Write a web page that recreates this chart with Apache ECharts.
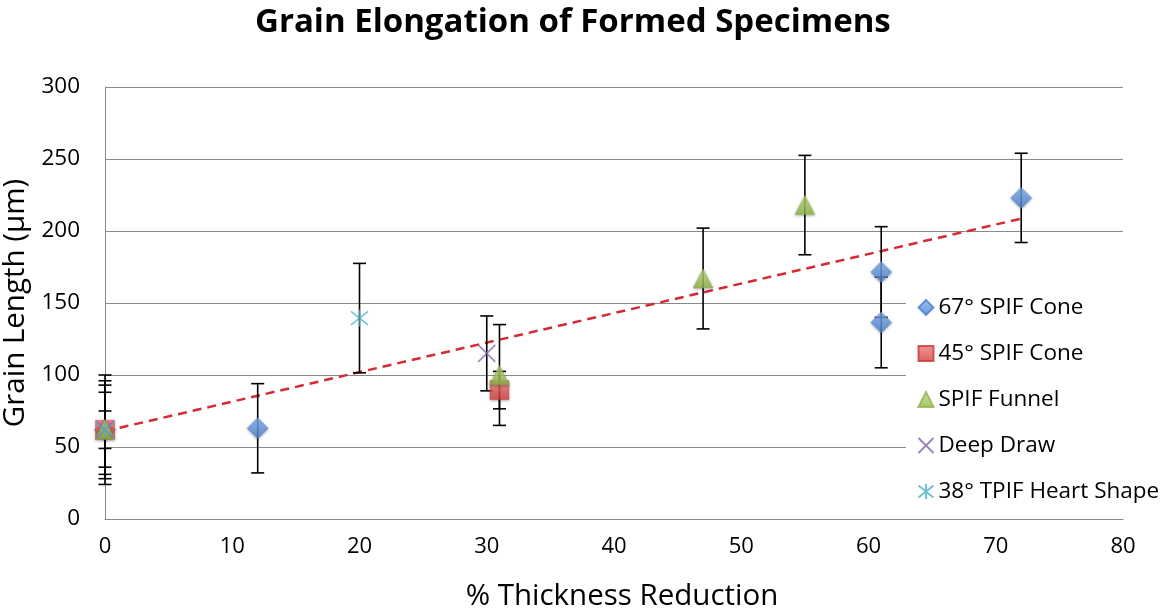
<!DOCTYPE html>
<html>
<head>
<meta charset="utf-8">
<style>
  html, body { margin: 0; padding: 0; background: #fff; }
  #chart { width: 1162px; height: 614px; }
</style>
<script src="https://cdn.jsdelivr.net/npm/echarts@6/dist/echarts.min.js"></script>
</head>
<body>
<div id="chart"></div>
<script>
// Series: [thickness reduction %, grain length µm] and symmetric error (µm)
const cone67Pts = [[0, 62], [12, 63], [61, 171.5], [61, 136.5], [72, 223]];
const cone67Err = [38, 31, 31.5, 31.5, 31];

const cone45Pts = [[0, 62], [31, 89.5]];
const cone45Err = [34, 13];

const funnelPts = [[0, 62], [31, 100], [47, 167], [55, 218]];
const funnelErr = [31, 35, 35, 34.5];

const deepDrawPts = [[0, 62], [30, 115]];
const deepDrawErr = [26, 26];

const heartPts = [[0, 62], [20, 139.5]];
const heartErr = [13, 38];

// Linear trend line end points
const trendPts = [[0, 61], [72, 208.6]];

const seriesNames = ['67° SPIF Cone', '45° SPIF Cone', 'SPIF Funnel', 'Deep Draw', '38° TPIF Heart Shape'];

const FONT = '"Open Sans", Lato, sans-serif';

function errData(pts, errs) {
  return pts.map((p, i) => [p[0], p[1] - errs[i], p[1] + errs[i]]);
}

const allErr = []
  .concat(errData(cone67Pts, cone67Err))
  .concat(errData(cone45Pts, cone45Err))
  .concat(errData(funnelPts, funnelErr))
  .concat(errData(deepDrawPts, deepDrawErr))
  .concat(errData(heartPts, heartErr));

function grad(top, bottom) {
  return new echarts.graphic.LinearGradient(0, 0, 0, 1, [
    { offset: 0, color: top }, { offset: 1, color: bottom }
  ]);
}

const shadow = { shadowBlur: 3, shadowColor: 'rgba(0,0,0,0.35)', shadowOffsetY: 1 };

const chart = echarts.init(document.getElementById('chart'), null, { renderer: 'canvas' });

chart.setOption({
  animation: false,
  backgroundColor: '#fff',
  title: {
    text: 'Grain Elongation of Formed Specimens',
    left: 250,
    top: 1,
    textStyle: { fontFamily: FONT, fontWeight: 'bold', fontSize: 33, color: '#000' }
  },
  grid: { left: 105, right: 39, top: 87, bottom: 95, containLabel: false, outerBoundsMode: 'none' },
  xAxis: {
    type: 'value',
    min: 0, max: 80, interval: 10,
    name: '% Thickness Reduction',
    nameLocation: 'middle',
    nameGap: 63,
    nameTextStyle: { fontFamily: FONT, fontSize: 29.5, color: '#000', padding: [0, 0, 0, 16] },
    axisLine: { show: true, lineStyle: { color: '#8a8a8a', width: 1 } },
    axisTick: { show: false },
    axisLabel: { fontFamily: FONT, fontSize: 22, color: '#000', margin: 17 },
    splitLine: { show: false }
  },
  yAxis: {
    type: 'value',
    min: 0, max: 300, interval: 50,
    name: 'Grain Length (µm)',
    nameLocation: 'middle',
    nameGap: 63,
    nameTextStyle: { fontFamily: FONT, fontSize: 29.5, color: '#000' },
    axisLine: { show: true, lineStyle: { color: '#8a8a8a', width: 1 } },
    axisTick: { show: false },
    axisLabel: { fontFamily: FONT, fontSize: 22.5, color: '#000', margin: 25 },
    splitLine: { show: true, lineStyle: { color: '#8a8a8a', width: 1 } }
  },
  legend: {
    data: seriesNames,
    orient: 'vertical',
    left: 906,
    top: 282,
    padding: [14, 6, 14, 10],
    backgroundColor: '#fff',
    itemGap: 23,
    itemWidth: 15,
    itemHeight: 15,
    textStyle: { fontFamily: FONT, fontSize: 22.5, color: '#000', padding: [0, 0, 0, 0] }
  },
  series: [
    {
      name: 'trend',
      type: 'line',
      data: trendPts,
      symbol: 'none',
      z: 1,
      silent: true,
      lineStyle: { color: '#d52a33', width: 2.5, type: [9, 6] }
    },
    {
      name: 'errors',
      type: 'custom',
      data: allErr,
      z: 2,
      silent: true,
      encode: { x: 0, y: [1, 2] },
      renderItem: function (params, api) {
        const x = api.value(0);
        const top = api.coord([x, api.value(2)]);
        const bot = api.coord([x, api.value(1)]);
        const hw = 6.5;
        const st = { stroke: '#000', lineWidth: 1.6 };
        return {
          type: 'group',
          children: [
            { type: 'line', shape: { x1: top[0], y1: top[1], x2: bot[0], y2: bot[1] }, style: st },
            { type: 'line', shape: { x1: top[0] - hw, y1: top[1], x2: top[0] + hw, y2: top[1] }, style: st },
            { type: 'line', shape: { x1: bot[0] - hw, y1: bot[1], x2: bot[0] + hw, y2: bot[1] }, style: st }
          ]
        };
      }
    },
    {
      name: seriesNames[0],
      type: 'scatter',
      data: cone67Pts,
      symbol: 'diamond',
      symbolSize: [21, 21],
      z: 3,
      itemStyle: Object.assign({ color: grad('#80aef0', '#4c80cc'), borderColor: '#4c80cc', borderWidth: 0.5 }, shadow)
    },
    {
      name: seriesNames[1],
      type: 'scatter',
      data: cone45Pts,
      symbol: 'rect',
      symbolSize: 19,
      z: 3,
      itemStyle: Object.assign({ color: grad('#f07c7c', '#d03a3a'), borderColor: '#c43a3a', borderWidth: 0.5 }, shadow)
    },
    {
      name: seriesNames[2],
      type: 'scatter',
      data: funnelPts,
      symbol: 'triangle',
      symbolSize: [20, 19],
      z: 3,
      itemStyle: Object.assign({ color: grad('#c2e07e', '#8cb347'), borderColor: '#8cb347', borderWidth: 0.5 }, shadow)
    },
    {
      name: seriesNames[3],
      type: 'scatter',
      data: deepDrawPts,
      symbol: 'path://M0,0L20,20M20,0L0,20',
      symbolSize: 17,
      z: 3,
      itemStyle: { color: 'none', borderColor: '#8068a8', borderWidth: 1.5 }
    },
    {
      name: seriesNames[4],
      type: 'scatter',
      data: heartPts,
      symbol: 'path://M0,2L20,18M20,2L0,18M10,0L10,20',
      symbolSize: 17,
      z: 3,
      itemStyle: { color: 'none', borderColor: '#4fb0c8', borderWidth: 1.5 }
    }
  ]
});
</script>
</body>
</html>
